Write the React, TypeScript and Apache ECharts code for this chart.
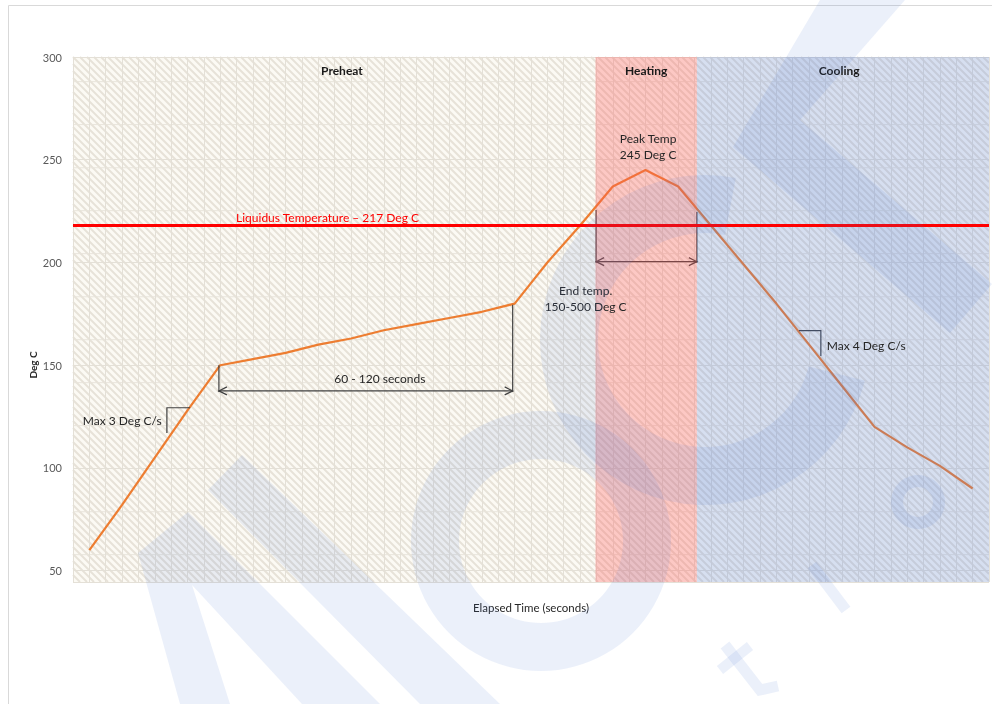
import React, { useEffect, useRef } from 'react';
import * as echarts from 'echarts';

// ---- data ----
const timeIndex = [0, 1, 2, 3, 4, 5, 6, 7, 8, 9, 10, 11, 12, 13, 14, 15, 16, 17, 18, 19, 20, 21, 22, 23, 24, 25, 26, 27];
const temps = [60, 82, 105, 128, 150, 153, 156, 160, 163, 167, 170, 173, 176, 180, 200, 218, 237, 245, 237, 218, 199, 180, 160, 140, 120, 110, 101, 90];

const yMin = 44.5;
const yMax = 300;
const xMin = -0.5;
const xMax = 27.5;

const phaseNames = ['Preheat', 'Heating', 'Cooling'];
const phaseStarts = [-0.5, 15.47, 18.57];
const phaseEnds = [15.47, 18.57, 27.5];
const phaseTitleX = [7.72, 17.02, 22.92];
const phaseTitleY = 293.2;
const phaseFills = ['rgba(0,0,0,0)', 'rgba(255,85,85,0.3)', 'rgba(75,125,225,0.21)'];

const liquidusTemp = 218;
const liquidusLabel = 'Liquidus Temperature \u2013 217 Deg C';

// dimension spans (double arrows)
const spanFrom = [3.96, 15.49];
const spanTo = [12.94, 18.57];
const spanLevel = [137.5, 200.4];
const spanFromTop = [150, 225.5];
const spanToTop = [179.4, 224.6];

// rate brackets
const bracketArmX = [3.08, 21.69];
const bracketCornerX = [2.37, 22.36];
const bracketTop = [129.3, 166.8];
const bracketBottom = [117.0, 154.5];

// notes
const noteTexts = ['60 - 120 seconds', 'End temp.\n150-500 Deg C', 'Peak Temp\n245 Deg C', 'Max 3 Deg C/s', 'Max 4 Deg C/s'];
const noteX = [8.88, 15.17, 17.08, 2.21, 22.54];
const noteY = [143.3, 182.4, 256.5, 123.0, 159.5];
const noteAlign = ['center', 'center', 'center', 'right', 'left'];
const liquidusLabelX = 7.28;
const liquidusLabelY = 222.1;

// faint texture lines of the plot-area fill
const textureLines = [288.0, 267.1, 246.1, 225.2, 204.3, 183.3, 162.4, 141.5, 120.6, 78.7, 57.8];

const FONT = 'Lato, "Liberation Sans", sans-serif';
const WM = 'rgba(70,120,210,0.11)';

export default function App() {
  const ref = useRef<HTMLDivElement>(null);
  useEffect(() => {
    if (!ref.current) return;
    const chart = echarts.init(ref.current, null, { renderer: 'svg' });

    const bgSeries = {
      type: 'custom',
      z: 0,
      silent: true,
      data: [[xMin, yMax]],
      renderItem: (params: any, api: any) => {
        const cs = params.coordSys;
        const x0 = cs.x, y0 = cs.y, w = cs.width, h = cs.height;
        const children: any[] = [
          { type: 'rect', shape: { x: x0, y: y0, width: w, height: h }, style: { fill: '#FCFAF4' } },
        ];
        const step = 7;
        for (let c = -h; c < w; c += step) {
          const t0 = Math.max(0, -c);
          const t1 = Math.min(h, w - c);
          if (t1 <= t0) continue;
          children.push({
            type: 'line',
            shape: { x1: x0 + c + t0, y1: y0 + t0, x2: x0 + c + t1, y2: y0 + t1 },
            style: { stroke: '#E7E2D8', lineWidth: 2 },
          });
        }
        textureLines.forEach((v) => {
          const p = api.coord([xMin, v]);
          children.push({
            type: 'line',
            shape: { x1: x0, y1: p[1], x2: x0 + w, y2: p[1] },
            style: { stroke: '#E8E4DB', lineWidth: 1 },
          });
        });
        return { type: 'group', children };
      },
    };

    const lineSeries = {
      type: 'line',
      name: 'Temperature',
      z: 2,
      data: timeIndex.map((t, i) => [t, temps[i]]),
      showSymbol: false,
      symbol: 'none',
      lineStyle: { color: '#ED7D31', width: 2.2 },
      markLine: {
        silent: true,
        z: 4,
        symbol: 'none',
        label: { show: false },
        lineStyle: { color: '#FF0000', width: 2.8, type: 'solid' },
        data: [{ yAxis: liquidusTemp }],
      },
    };

    const chevron = (x: number, y: number, dir: number) => ({
      type: 'polyline',
      shape: { points: [[x - dir * 8, y - 4], [x, y], [x - dir * 8, y + 4]] },
      style: { stroke: '#404040', lineWidth: 1.2, fill: 'none' },
    });

    const spanSeries = {
      type: 'custom',
      z: 2.5,
      silent: true,
      data: spanFrom.map((v, k) => [v, spanLevel[k]]),
      renderItem: (params: any, api: any) => {
        const k = params.dataIndex;
        const l = api.coord([spanFrom[k], spanLevel[k]]);
        const r = api.coord([spanTo[k], spanLevel[k]]);
        const lt = api.coord([spanFrom[k], spanFromTop[k]]);
        const rt = api.coord([spanTo[k], spanToTop[k]]);
        const st = { stroke: '#404040', lineWidth: 1.2 };
        return {
          type: 'group',
          children: [
            { type: 'line', shape: { x1: lt[0], y1: lt[1], x2: l[0], y2: l[1] + 1 }, style: st },
            { type: 'line', shape: { x1: rt[0], y1: rt[1], x2: r[0], y2: r[1] + 1 }, style: st },
            { type: 'line', shape: { x1: l[0], y1: l[1], x2: r[0], y2: r[1] }, style: st },
            chevron(l[0], l[1], -1),
            chevron(r[0], r[1], 1),
          ],
        };
      },
    };

    const bracketSeries = {
      type: 'custom',
      z: 2.5,
      silent: true,
      data: bracketArmX.map((v, k) => [v, bracketTop[k]]),
      renderItem: (params: any, api: any) => {
        const k = params.dataIndex;
        const a = api.coord([bracketArmX[k], bracketTop[k]]);
        const c = api.coord([bracketCornerX[k], bracketTop[k]]);
        const b = api.coord([bracketCornerX[k], bracketBottom[k]]);
        return {
          type: 'polyline',
          shape: { points: [a, c, b] },
          style: { stroke: '#404040', lineWidth: 1.2, fill: 'none' },
        };
      },
    };

    const overlaySeries = {
      type: 'custom',
      z: 3,
      silent: true,
      data: phaseStarts.map((v) => [v, yMax]),
      renderItem: (params: any, api: any) => {
        const k = params.dataIndex;
        const cs = params.coordSys;
        const x1 = api.coord([phaseStarts[k], yMax])[0];
        const x2 = api.coord([phaseEnds[k], yMax])[0];
        return {
          type: 'rect',
          shape: { x: x1, y: cs.y, width: x2 - x1, height: cs.height },
          style: { fill: phaseFills[k] },
        };
      },
    };

    const titleSeries = {
      type: 'custom',
      z: 5,
      silent: true,
      data: phaseTitleX.map((v) => [v, phaseTitleY]),
      renderItem: (params: any, api: any) => {
        const k = params.dataIndex;
        const p = api.coord([phaseTitleX[k], phaseTitleY]);
        return {
          type: 'text',
          x: p[0],
          y: p[1],
          style: {
            text: phaseNames[k],
            fill: '#1a1a1a',
            fontSize: 12,
            fontWeight: 'bold',
            fontFamily: FONT,
            align: 'center',
            verticalAlign: 'middle',
          },
        };
      },
    };

    const noteSeries = {
      type: 'custom',
      z: 5,
      silent: true,
      data: noteX.map((v, k) => [v, noteY[k]]),
      renderItem: (params: any, api: any) => {
        const k = params.dataIndex;
        const p = api.coord([noteX[k], noteY[k]]);
        return {
          type: 'text',
          x: p[0],
          y: p[1],
          style: {
            text: noteTexts[k],
            fill: '#262626',
            fontSize: 12,
            lineHeight: 16,
            fontFamily: FONT,
            align: noteAlign[k],
            verticalAlign: 'middle',
          },
        };
      },
    };

    const liquidusTextSeries = {
      type: 'custom',
      z: 5,
      silent: true,
      data: [[liquidusLabelX, liquidusLabelY]],
      renderItem: (params: any, api: any) => {
        const p = api.coord([liquidusLabelX, liquidusLabelY]);
        return {
          type: 'text',
          x: p[0],
          y: p[1],
          style: {
            text: liquidusLabel,
            fill: '#FF0000',
            fontSize: 12,
            fontFamily: FONT,
            align: 'center',
            verticalAlign: 'middle',
          },
        };
      },
    };

    const wm = (el: any) => ({ ...el, z: 100, silent: true });

    const option = {
      animation: false,
      grid: { left: 73, top: 57, right: 3, bottom: 122, show: false },
      xAxis: {
        type: 'value',
        min: xMin,
        max: xMax,
        interval: 0.5,
        z: 1,
        axisLabel: { show: false },
        axisTick: { show: false },
        axisLine: { show: false },
        splitLine: { show: true, lineStyle: { color: '#E4E0D7', width: 1 } },
        name: 'Elapsed Time (seconds)',
        nameLocation: 'middle',
        nameGap: 19,
        nameTextStyle: { color: '#262626', fontSize: 11.5, fontFamily: FONT },
      },
      yAxis: {
        type: 'value',
        min: yMin,
        max: yMax,
        splitNumber: 5,
        z: 1,
        axisLabel: { showMinLabel: false, color: '#595959', fontSize: 11, fontFamily: FONT, margin: 11 },
        axisLine: { show: false },
        axisTick: { show: false },
        splitLine: { show: true, lineStyle: { color: '#E4E0D7', width: 1 } },
      },
      graphic: [
        {
          type: 'rect',
          z: 0,
          silent: true,
          shape: { x: 8.5, y: 5.5, width: 1100, height: 800 },
          style: { fill: 'none', stroke: '#D9D9D9', lineWidth: 1 },
        },
        {
          type: 'text',
          z: 5,
          silent: true,
          x: 33,
          y: 365,
          rotation: Math.PI / 2,
          style: { text: 'Deg C', fill: '#262626', fontSize: 10, fontWeight: 'bold', fontFamily: FONT, align: 'center', verticalAlign: 'middle' },
        },
        // watermark
        wm({ type: 'polygon', shape: { points: [[138, 553], [188, 512], [380, 704], [302, 704], [192, 585], [230, 704], [180, 704]] }, style: { fill: WM } }),
        wm({ type: 'polygon', shape: { points: [[208, 490], [242, 455], [500, 704], [420, 704]] }, style: { fill: WM } }),
        wm({ type: 'sector', shape: { cx: 541, cy: 541, r0: 82, r: 130, startAngle: 0, endAngle: Math.PI * 2, clockwise: true }, style: { fill: WM } }),
        wm({ type: 'sector', shape: { cx: 705, cy: 340, r0: 107, r: 165, startAngle: 0.25, endAngle: 4.9, clockwise: true }, style: { fill: WM } }),
        wm({ type: 'polygon', shape: { points: [[820, 0], [905, 0], [800, 120], [992, 284], [950, 333], [733, 147]] }, style: { fill: WM } }),
        wm({ type: 'ring', shape: { cx: 918, cy: 502, r0: 15, r: 27 }, style: { fill: WM } }),
        wm({ type: 'polyline', shape: { points: [[725, 645], [760, 690], [778, 686]] }, style: { stroke: WM, lineWidth: 11, fill: 'none' } }),
        wm({ type: 'line', shape: { x1: 750, y1: 646, x2: 720, y2: 670 }, style: { stroke: WM, lineWidth: 10 } }),
        wm({ type: 'line', shape: { x1: 812, y1: 565, x2: 846, y2: 610 }, style: { stroke: WM, lineWidth: 11 } }),
      ],
      series: [bgSeries, lineSeries, spanSeries, bracketSeries, overlaySeries, titleSeries, noteSeries, liquidusTextSeries],
    };

    chart.setOption(option as any);
    return () => chart.dispose();
  }, []);
  return <div ref={ref} style={{ position: 'fixed', left: 0, top: 0, width: 992, height: 704 }} />;
}
